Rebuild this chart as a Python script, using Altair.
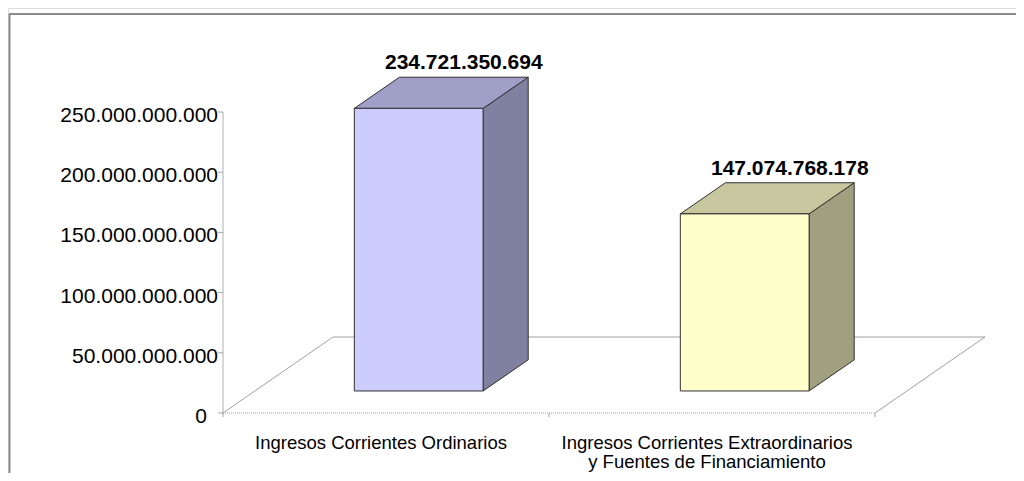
import altair as alt
import pandas as pd

# ---- data ----
categories = [
    "Ingresos Corrientes Ordinarios",
    "Ingresos Corrientes Extraordinarios\ny Fuentes de Financiamiento",
]
values = [234721350694, 147074768178]
front_colors = ["#CCCCFF", "#FFFFCC"]
side_colors = ["#8080A0", "#A0A080"]
top_colors = ["#9F9FC7", "#C7C79F"]
y_ticks = [0, 50e9, 100e9, 150e9, 200e9, 250e9]
x_ticks = [0, 1, 2]

# ---- 3D geometry (style constants) ----
DX = 0.3374      # floor depth along x (category units)
DY = 63.1e9      # floor depth along y (value units)
D0, D1 = 0.29, 0.70   # bar depth start/end (fraction of floor depth)
LO, HI = 0.305, 0.70  # bar left/right within category band

front_rows, side_rows, top_rows, label_rows, cat_rows = [], [], [], [], []
for i, (cat, v) in enumerate(zip(categories, values)):
    front_rows.append(dict(bar=i, x=i + LO + D0 * DX, x2=i + HI + D0 * DX,
                           y=D0 * DY, y2=v + D0 * DY, fill=front_colors[i]))
    for d in (D0, D1):
        side_rows.append(dict(bar=i, x=i + HI + d * DX, y=v + d * DY, y2=d * DY,
                              fill=side_colors[i]))
        top_rows.append(dict(bar=i, y=v + d * DY, x=i + LO + d * DX, x2=i + HI + d * DX,
                             fill=top_colors[i]))
    label_rows.append(dict(x=i + (LO + HI) / 2 + D1 * DX, y=v + D1 * DY,
                           text=f"{v:,}".replace(",", ".")))
    cat_rows.append(dict(x=i + 0.5, y=0, text=cat))

floor_rows = [
    dict(x=0, y=0, x2=DX, y2=DY),
    dict(x=DX, y=DY, x2=2 + DX, y2=DY),
    dict(x=2, y=0, x2=2 + DX, y2=DY),
]

ytick_rows = [dict(x=0, y=t, zero=(t == 0), text=f"{int(t):,}".replace(",", "."))
              for t in y_ticks]
xtick_rows = [dict(x=t, y=0) for t in x_ticks]

front = pd.DataFrame(front_rows)
side = pd.DataFrame(side_rows)
top = pd.DataFrame(top_rows)
labels = pd.DataFrame(label_rows)
cats = pd.DataFrame(cat_rows)
floor = pd.DataFrame(floor_rows)
yticks = pd.DataFrame(ytick_rows)
xticks = pd.DataFrame(xtick_rows)
yaxis_line = pd.DataFrame([dict(x=0, y=y_ticks[0], y2=y_ticks[-1])])
xaxis_line = pd.DataFrame([dict(x=x_ticks[0], x2=x_ticks[-1], y=0)])

xs = alt.Scale(domain=[0, 2], range=[215, 867], nice=False, zero=False)
ys = alt.Scale(domain=[0, 250e9], range=[405, 104], nice=False, zero=False)


def X(field="x:Q"):
    return alt.X(field, scale=xs, axis=None)


def Y(field="y:Q"):
    return alt.Y(field, scale=ys, axis=None)


floor_layer = alt.Chart(floor).mark_rule(color="#A0A0A0", strokeWidth=1).encode(
    x=X(), y=Y(), x2="x2:Q", y2="y2:Q",
)

yaxis_layer = alt.Chart(yaxis_line).mark_rule(color="#B0B0B0", strokeWidth=1).encode(
    x=X(), y=Y(), y2="y2:Q",
)
xaxis_layer = alt.Chart(xaxis_line).mark_rule(color="#A0A0A0", strokeWidth=1,
                                              strokeDash=[1, 1]).encode(
    x=X(), x2="x2:Q", y=Y(),
)
ytick_layer = alt.Chart(yticks).mark_tick(orient="horizontal", size=5, thickness=1,
                                          color="#808080", xOffset=-2.5).encode(
    x=X(), y=Y(),
)
xtick_layer = alt.Chart(xticks).mark_tick(orient="vertical", size=4, thickness=1,
                                          color="#808080", yOffset=2).encode(
    x=X(), y=Y(),
)
ylabel_base = alt.Chart(yticks).encode(x=X(), y=Y(), text="text:N")
ylabel_layer = ylabel_base.mark_text(
    fontSize=21, font="Liberation Sans", color="#000000", align="right",
    baseline="middle", dx=-5, dy=4,
).transform_filter("!datum.zero")
ylabel_zero = ylabel_base.mark_text(
    fontSize=21, font="Liberation Sans", color="#000000", align="right",
    baseline="middle", dx=-16, dy=4,
).transform_filter("datum.zero")

side_layer = alt.Chart(side).mark_area(stroke="#303030", strokeWidth=1, opacity=1).encode(
    x=X(), y=Y(), y2="y2:Q", detail="bar:N",
    fill=alt.Fill("fill:N", scale=None),
)

top_layer = alt.Chart(top).mark_area(orient="horizontal", stroke="#303030",
                                     strokeWidth=1, opacity=1).encode(
    y=Y(), x=X(), x2="x2:Q", detail="bar:N",
    fill=alt.Fill("fill:N", scale=None),
)

front_layer = alt.Chart(front).mark_rect(stroke="#303030", strokeWidth=1).encode(
    x=X(), x2="x2:Q", y=Y(), y2="y2:Q",
    fill=alt.Fill("fill:N", scale=None),
)

value_layer = alt.Chart(labels).mark_text(
    fontSize=21, fontWeight="bold", font="Liberation Sans", color="#000000",
    baseline="alphabetic", align="center", dy=-8,
).encode(x=X(), y=Y(), text="text:N")

cat_layer = alt.Chart(cats).mark_text(
    fontSize=18.5, font="Liberation Sans", color="#000000", baseline="top",
    align="center", dy=21, dx=-5, lineBreak="\n", lineHeight=19,
).encode(x=X(), y=Y(), text="text:N")

frame_df = pd.DataFrame({"k": [0]})
frame_top = alt.Chart(frame_df).mark_rule(color="#8C8C8C", strokeWidth=2).encode(
    x=alt.value(1), x2=alt.value(1008), y=alt.value(6))
frame_left = alt.Chart(frame_df).mark_rule(color="#8C8C8C", strokeWidth=2).encode(
    x=alt.value(1.5), y=alt.value(6), y2=alt.value(465))

chart = alt.layer(
    frame_top, frame_left, floor_layer, xaxis_layer, yaxis_layer, ytick_layer,
    xtick_layer, ylabel_layer, ylabel_zero, side_layer, top_layer, front_layer,
    value_layer, cat_layer,
).properties(
    width=1008, height=465,
    autosize=alt.AutoSizeParams(type="none"),
    padding=0,
    background="white",
).configure_view(stroke=None).configure(font="Liberation Sans")

chart.save("out.html", embed_options={"renderer": "svg", "actions": False})
